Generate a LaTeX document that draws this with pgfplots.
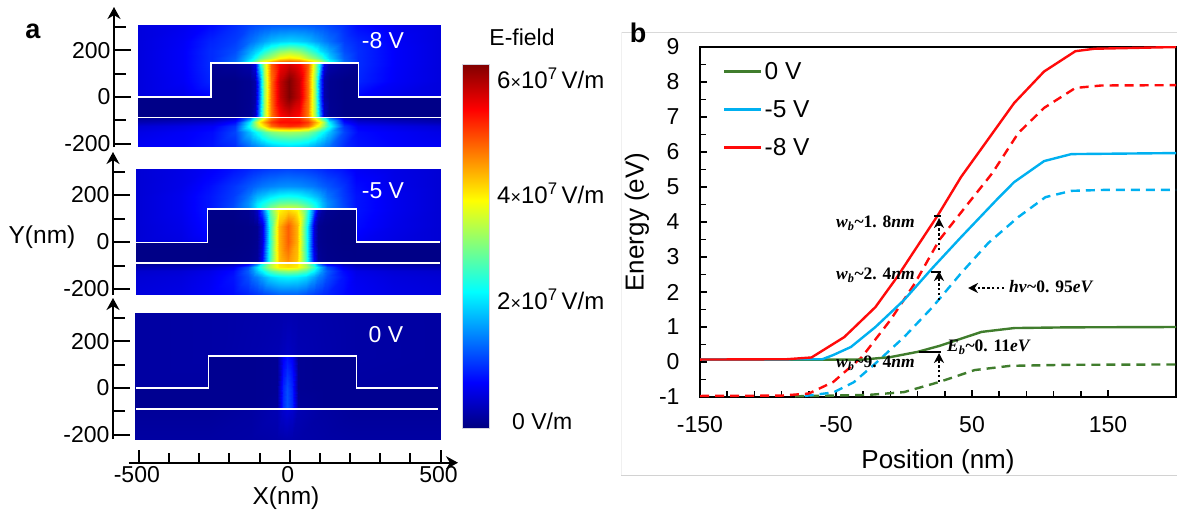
\documentclass[border=0pt]{standalone}
\usepackage[no-math]{fontspec}
\usepackage{pgfplots}
\pgfplotsset{compat=1.18}
\usetikzlibrary{arrows.meta}
\setmainfont{Liberation Sans}
\newfontfamily\annf{Liberation Serif}
\definecolor{gcol}{RGB}{64,125,45}
\definecolor{bcol}{RGB}{0,176,240}
\definecolor{rcol}{RGB}{255,10,10}
\newcommand{\fa}{\fontsize{23}{27}\selectfont}
\newcommand{\fc}{\fontsize{24.5}{28}\selectfont}
\newcommand{\fd}{\fontsize{26}{30}\selectfont}
\newcommand{\an}[4]{{\annf\fontsize{17.5}{20}\selectfont\bfseries{\itshape #1\textsubscript{#2}}\textasciitilde #3{\itshape #4}}}
\newcommand{\cb}[1]{\fontsize{24}{28}\selectfont #1{\fontsize{18}{18}\selectfont×}10\textsuperscript{7}\,V/m}
\pgfplotsset{
  heat/.style={scale only axis,width=327pt,axis x line=none,axis y line=left,
    axis line style={-{Stealth[length=12pt,width=13pt]},line width=2pt},
    ytick={-200,0,200},yticklabels={-200,0,200},minor ytick={-100,100,300},
    tick align=inside,major tick length=17pt,minor tick length=12pt,
    tick style={line width=2pt,black},
    ticklabel style={font=\fa},
    colormap={myjet}{rgb255(0)=(0,0,128) rgb255(1)=(0,0,255) rgb255(3)=(0,255,255) rgb255(5)=(255,255,0) rgb255(7)=(255,0,0) rgb255(8)=(128,0,0)},
    point meta min=0,point meta max=6,clip=false},
  map/.style={surf,shader=interp,point meta=explicit},
}
\begin{document}
\begin{tikzpicture}
\path[use as bounding box] (0pt,0pt) rectangle (1177pt,-512pt);
\draw[gray!30,line width=.8pt] (1177pt,-32pt) -- (621pt,-32pt);
\draw[gray!12,line width=.8pt] (621pt,-32pt) -- (621pt,-475pt);
\draw[gray!35,line width=.8pt] (621pt,-475pt) -- (1177pt,-475pt);

% panel -8 V
\begin{axis}[heat,at={(114pt,-147pt)},anchor=south west,height=140pt,xmin=-579,xmax=500,ymin=-213.7,ymax=384.6]
\addplot[map,mesh/cols=23] table[row sep=\\,x index=0,y index=1,meta index=2]{x y v\\
-500 308 .55\\-350 308 .65\\-261 308 .8\\-257 308 .8\\-180 308 1\\-130 308 1.15\\-113 308 1.2\\-100 308 1.22\\-85 308 1.25\\-60 308 1.28\\-30 308 1.3\\0 308 1.3\\30 308 1.3\\60 308 1.28\\85 308 1.25\\100 308 1.22\\113 308 1.2\\130 308 1.15\\180 308 1\\226 308 .8\\230 308 .8\\350 308 .65\\500 308 .55\\
-500 240 .55\\-350 240 .7\\-261 240 .95\\-257 240 .95\\-180 240 1.1\\-130 240 1.4\\-113 240 1.5\\-100 240 1.6\\-85 240 1.7\\-60 240 1.85\\-30 240 1.95\\0 240 2\\30 240 1.95\\60 240 1.85\\85 240 1.7\\100 240 1.6\\113 240 1.5\\130 240 1.4\\180 240 1.1\\226 240 .95\\230 240 .95\\350 240 .7\\500 240 .55\\
-500 195 .55\\-350 195 .72\\-261 195 1\\-257 195 1\\-180 195 1.2\\-130 195 1.75\\-113 195 1.95\\-100 195 2.1\\-85 195 2.4\\-60 195 2.7\\-30 195 3.05\\0 195 3.2\\30 195 3.05\\60 195 2.7\\85 195 2.4\\100 195 2.1\\113 195 1.95\\130 195 1.75\\180 195 1.2\\226 195 1\\230 195 1\\350 195 .72\\500 195 .55\\
-500 165 .55\\-350 165 .72\\-261 165 1\\-257 165 1\\-180 165 1.3\\-130 165 2\\-113 165 2.35\\-100 165 2.7\\-85 165 3\\-60 165 3.3\\-30 165 3.75\\0 165 3.9\\30 165 3.75\\60 165 3.3\\85 165 3\\100 165 2.7\\113 165 2.35\\130 165 2\\180 165 1.3\\226 165 1\\230 165 1\\350 165 .72\\500 165 .55\\
-500 148 .55\\-350 148 .72\\-261 148 1\\-257 148 1\\-180 148 1.4\\-130 148 2.4\\-113 148 3\\-100 148 3.5\\-85 148 3.9\\-60 148 4.3\\-30 148 4.7\\0 148 4.8\\30 148 4.7\\60 148 4.3\\85 148 3.9\\100 148 3.5\\113 148 3\\130 148 2.4\\180 148 1.4\\226 148 1\\230 148 1\\350 148 .72\\500 148 .55\\
-500 142 .55\\-350 142 .72\\-261 142 1\\-257 142 .1\\-180 142 .15\\-130 142 .25\\-113 142 .6\\-100 142 2\\-85 142 3.3\\-60 142 4.7\\-30 142 5.3\\0 142 5.5\\30 142 5.3\\60 142 4.7\\85 142 3.3\\100 142 2\\113 142 .6\\130 142 .25\\180 142 .15\\226 142 .1\\230 142 1\\350 142 .72\\500 142 .55\\
-500 70 .55\\-350 70 .7\\-261 70 .95\\-257 70 .05\\-180 70 .05\\-130 70 .1\\-113 70 .25\\-100 70 1.3\\-85 70 3.1\\-60 70 4.6\\-30 70 5.6\\0 70 6\\30 70 5.6\\60 70 4.6\\85 70 3.1\\100 70 1.3\\113 70 .25\\130 70 .1\\180 70 .05\\226 70 .05\\230 70 .95\\350 70 .7\\500 70 .55\\
-500 2 .55\\-350 2 .62\\-261 2 .75\\-257 2 .05\\-180 2 .05\\-130 2 .1\\-113 2 .25\\-100 2 1.3\\-85 2 3.1\\-60 2 4.6\\-30 2 5.6\\0 2 6\\30 2 5.6\\60 2 4.6\\85 2 3.1\\100 2 1.3\\113 2 .25\\130 2 .1\\180 2 .05\\226 2 .05\\230 2 .75\\350 2 .62\\500 2 .55\\
-500 -2 .05\\-350 -2 .05\\-261 -2 .05\\-257 -2 .05\\-180 -2 .05\\-130 -2 .1\\-113 -2 .25\\-100 -2 1.3\\-85 -2 3.1\\-60 -2 4.6\\-30 -2 5.6\\0 -2 6\\30 -2 5.6\\60 -2 4.6\\85 -2 3.1\\100 -2 1.3\\113 -2 .25\\130 -2 .1\\180 -2 .05\\226 -2 .05\\230 -2 .05\\350 -2 .05\\500 -2 .05\\
-500 -84 .05\\-350 -84 .05\\-261 -84 .05\\-257 -84 .05\\-180 -84 .05\\-130 -84 .12\\-113 -84 .4\\-100 -84 1.6\\-85 -84 3.2\\-60 -84 4.5\\-30 -84 5.2\\0 -84 5.4\\30 -84 5.2\\60 -84 4.5\\85 -84 3.2\\100 -84 1.6\\113 -84 .4\\130 -84 .12\\180 -84 .05\\226 -84 .05\\230 -84 .05\\350 -84 .05\\500 -84 .05\\
-500 -90 .15\\-350 -90 .2\\-261 -90 .25\\-257 -90 .25\\-180 -90 .5\\-130 -90 1.5\\-113 -90 2.4\\-100 -90 3\\-85 -90 3.7\\-60 -90 4.5\\-30 -90 5\\0 -90 5.1\\30 -90 5\\60 -90 4.5\\85 -90 3.7\\100 -90 3\\113 -90 2.4\\130 -90 1.5\\180 -90 .5\\226 -90 .25\\230 -90 .25\\350 -90 .2\\500 -90 .15\\
-500 -105 .3\\-350 -105 .4\\-261 -105 .5\\-257 -105 .5\\-180 -105 .8\\-130 -105 2.2\\-113 -105 3.2\\-100 -105 3.8\\-85 -105 4.3\\-60 -105 4.9\\-30 -105 5.2\\0 -105 5.2\\30 -105 5.2\\60 -105 4.9\\85 -105 4.3\\100 -105 3.8\\113 -105 3.2\\130 -105 2.2\\180 -105 .8\\226 -105 .5\\230 -105 .5\\350 -105 .4\\500 -105 .3\\
-500 -125 .5\\-350 -125 .6\\-261 -125 .7\\-257 -125 .7\\-180 -125 1.05\\-130 -125 2.4\\-113 -125 3\\-100 -125 3.5\\-85 -125 3.9\\-60 -125 4.6\\-30 -125 4.9\\0 -125 5\\30 -125 4.9\\60 -125 4.6\\85 -125 3.9\\100 -125 3.5\\113 -125 3\\130 -125 2.4\\180 -125 1.05\\226 -125 .7\\230 -125 .7\\350 -125 .6\\500 -125 .5\\
-500 -150 .6\\-350 -150 .7\\-261 -150 .8\\-257 -150 .8\\-180 -150 1.15\\-130 -150 1.9\\-113 -150 2.2\\-100 -150 2.4\\-85 -150 2.7\\-60 -150 3\\-30 -150 3.15\\0 -150 3.2\\30 -150 3.15\\60 -150 3\\85 -150 2.7\\100 -150 2.4\\113 -150 2.2\\130 -150 1.9\\180 -150 1.15\\226 -150 .8\\230 -150 .8\\350 -150 .7\\500 -150 .6\\
-500 -213 .7\\-350 -213 .75\\-261 -213 .85\\-257 -213 .85\\-180 -213 1\\-130 -213 1.4\\-113 -213 1.5\\-100 -213 1.6\\-85 -213 1.7\\-60 -213 1.85\\-30 -213 1.95\\0 -213 2\\30 -213 1.95\\60 -213 1.85\\85 -213 1.7\\100 -213 1.6\\113 -213 1.5\\130 -213 1.4\\180 -213 1\\226 -213 .85\\230 -213 .85\\350 -213 .75\\500 -213 .7\\
};
\addplot[white,line width=1.5pt,no marks] coordinates {(-500,0)(-259,0)(-259,145)(228,145)(228,0)(500,0)};
\addplot[white,line width=1.2pt,no marks] coordinates {(-500,-87)(500,-87)};
\end{axis}

% panel -5 V
\begin{axis}[heat,at={(113pt,-295pt)},anchor=south west,height=143pt,xmin=-574,xmax=500,ymin=-225.5,ymax=383]
\addplot[map,mesh/cols=23] table[row sep=\\,x index=0,y index=1,meta index=2]{x y v\\
-500 310 .5\\-350 310 .6\\-265 310 .7\\-261 310 .7\\-180 310 .85\\-130 310 .95\\-113 310 1\\-100 310 1.02\\-85 310 1.05\\-60 310 1.1\\-30 310 1.12\\0 310 1.15\\30 310 1.12\\60 310 1.1\\85 310 1.05\\100 310 1.02\\113 310 1\\130 310 .95\\180 310 .85\\224 310 .7\\228 310 .7\\350 310 .6\\500 310 .5\\
-500 240 .5\\-350 240 .62\\-265 240 .8\\-261 240 .8\\-180 240 1.05\\-130 240 1.25\\-113 240 1.32\\-100 240 1.38\\-85 240 1.45\\-60 240 1.52\\-30 240 1.58\\0 240 1.6\\30 240 1.58\\60 240 1.52\\85 240 1.45\\100 240 1.38\\113 240 1.32\\130 240 1.25\\180 240 1.05\\224 240 .8\\228 240 .8\\350 240 .62\\500 240 .5\\
-500 195 .5\\-350 195 .65\\-265 195 .85\\-261 195 .85\\-180 195 1.1\\-130 195 1.45\\-113 195 1.65\\-100 195 1.8\\-85 195 1.9\\-60 195 2.1\\-30 195 2.25\\0 195 2.3\\30 195 2.25\\60 195 2.1\\85 195 1.9\\100 195 1.8\\113 195 1.65\\130 195 1.45\\180 195 1.1\\224 195 .85\\228 195 .85\\350 195 .65\\500 195 .5\\
-500 165 .5\\-350 165 .65\\-265 165 .85\\-261 165 .85\\-180 165 1.15\\-130 165 1.6\\-113 165 1.85\\-100 165 2.1\\-85 165 2.3\\-60 165 2.6\\-30 165 2.85\\0 165 2.9\\30 165 2.85\\60 165 2.6\\85 165 2.3\\100 165 2.1\\113 165 1.85\\130 165 1.6\\180 165 1.15\\224 165 .85\\228 165 .85\\350 165 .65\\500 165 .5\\
-500 145 .5\\-350 145 .65\\-265 145 .85\\-261 145 .85\\-180 145 1.2\\-130 145 1.6\\-113 145 1.9\\-100 145 2.2\\-85 145 2.5\\-60 145 3\\-30 145 3.4\\0 145 3.5\\30 145 3.4\\60 145 3\\85 145 2.5\\100 145 2.2\\113 145 1.9\\130 145 1.6\\180 145 1.2\\224 145 .85\\228 145 .85\\350 145 .65\\500 145 .5\\
-500 136 .5\\-350 136 .65\\-265 136 .85\\-261 136 .05\\-180 136 .05\\-130 136 .1\\-113 136 .2\\-100 136 .4\\-85 136 1.2\\-60 136 2.8\\-30 136 3.8\\0 136 4\\30 136 3.8\\60 136 2.8\\85 136 1.2\\100 136 .4\\113 136 .2\\130 136 .1\\180 136 .05\\224 136 .05\\228 136 .85\\350 136 .65\\500 136 .5\\
-500 70 .5\\-350 70 .62\\-265 70 .8\\-261 70 .03\\-180 70 .03\\-130 70 .05\\-113 70 .07\\-100 70 .1\\-85 70 .5\\-60 70 2.5\\-30 70 4.2\\0 70 4.7\\30 70 4.2\\60 70 2.5\\85 70 .5\\100 70 .1\\113 70 .07\\130 70 .05\\180 70 .03\\224 70 .03\\228 70 .8\\350 70 .62\\500 70 .5\\
-500 2 .5\\-350 2 .58\\-265 2 .7\\-261 2 .03\\-180 2 .03\\-130 2 .05\\-113 2 .07\\-100 2 .1\\-85 2 .5\\-60 2 2.5\\-30 2 4.2\\0 2 4.7\\30 2 4.2\\60 2 2.5\\85 2 .5\\100 2 .1\\113 2 .07\\130 2 .05\\180 2 .03\\224 2 .03\\228 2 .7\\350 2 .58\\500 2 .5\\
-500 -2 .04\\-350 -2 .04\\-265 -2 .04\\-261 -2 .03\\-180 -2 .03\\-130 -2 .05\\-113 -2 .07\\-100 -2 .1\\-85 -2 .5\\-60 -2 2.5\\-30 -2 4.2\\0 -2 4.7\\30 -2 4.2\\60 -2 2.5\\85 -2 .5\\100 -2 .1\\113 -2 .07\\130 -2 .05\\180 -2 .03\\224 -2 .03\\228 -2 .04\\350 -2 .04\\500 -2 .04\\
-500 -85 .04\\-350 -85 .04\\-265 -85 .04\\-261 -85 .04\\-180 -85 .05\\-130 -85 .07\\-113 -85 .1\\-100 -85 .15\\-85 -85 .7\\-60 -85 2.6\\-30 -85 4.1\\0 -85 4.4\\30 -85 4.1\\60 -85 2.6\\85 -85 .7\\100 -85 .15\\113 -85 .1\\130 -85 .07\\180 -85 .05\\224 -85 .04\\228 -85 .04\\350 -85 .04\\500 -85 .04\\
-500 -93 .15\\-350 -93 .2\\-265 -93 .25\\-261 -93 .25\\-180 -93 .35\\-130 -93 .7\\-113 -93 1.1\\-100 -93 1.5\\-85 -93 2.3\\-60 -93 3.2\\-30 -93 3.9\\0 -93 4\\30 -93 3.9\\60 -93 3.2\\85 -93 2.3\\100 -93 1.5\\113 -93 1.1\\130 -93 .7\\180 -93 .35\\224 -93 .25\\228 -93 .25\\350 -93 .2\\500 -93 .15\\
-500 -105 .3\\-350 -105 .35\\-265 -105 .45\\-261 -105 .45\\-180 -105 .65\\-130 -105 1.2\\-113 -105 1.7\\-100 -105 2.1\\-85 -105 2.6\\-60 -105 3.3\\-30 -105 3.85\\0 -105 3.95\\30 -105 3.85\\60 -105 3.3\\85 -105 2.6\\100 -105 2.1\\113 -105 1.7\\130 -105 1.2\\180 -105 .65\\224 -105 .45\\228 -105 .45\\350 -105 .35\\500 -105 .3\\
-500 -125 .45\\-350 -125 .5\\-265 -125 .6\\-261 -125 .6\\-180 -125 .8\\-130 -125 1.3\\-113 -125 1.6\\-100 -125 1.9\\-85 -125 2.2\\-60 -125 2.7\\-30 -125 3\\0 -125 3.1\\30 -125 3\\60 -125 2.7\\85 -125 2.2\\100 -125 1.9\\113 -125 1.6\\130 -125 1.3\\180 -125 .8\\224 -125 .6\\228 -125 .6\\350 -125 .5\\500 -125 .45\\
-500 -150 .5\\-350 -150 .55\\-265 -150 .65\\-261 -150 .65\\-180 -150 .85\\-130 -150 1.2\\-113 -150 1.4\\-100 -150 1.5\\-85 -150 1.7\\-60 -150 2\\-30 -150 2.15\\0 -150 2.2\\30 -150 2.15\\60 -150 2\\85 -150 1.7\\100 -150 1.5\\113 -150 1.4\\130 -150 1.2\\180 -150 .85\\224 -150 .65\\228 -150 .65\\350 -150 .55\\500 -150 .5\\
-500 -225 .55\\-350 -225 .6\\-265 -225 .7\\-261 -225 .7\\-180 -225 .8\\-130 -225 .95\\-113 -225 1\\-100 -225 1.05\\-85 -225 1.1\\-60 -225 1.2\\-30 -225 1.3\\0 -225 1.3\\30 -225 1.3\\60 -225 1.2\\85 -225 1.1\\100 -225 1.05\\113 -225 1\\130 -225 .95\\180 -225 .8\\224 -225 .7\\228 -225 .7\\350 -225 .6\\500 -225 .55\\
};
\addplot[white,line width=1.5pt,no marks] coordinates {(-500,-2)(-263,-2)(-263,140)(226,140)(226,1)(500,1)};
\addplot[white,line width=1.2pt,no marks] coordinates {(-500,-89)(500,-89)};
\end{axis}

% panel 0 V
\begin{axis}[heat,at={(113pt,-439pt)},anchor=south west,height=141pt,xmin=-572,xmax=500,ymin=-218,ymax=384.6]
\addplot[map,mesh/cols=13] table[row sep=\\,x index=0,y index=1,meta index=2]{x y v\\
-500 320 .2\\-261 320 .22\\-257 320 .22\\-120 320 .25\\-35 320 .27\\-15 320 .28\\0 320 .28\\15 320 .28\\35 320 .27\\120 320 .25\\226 320 .22\\230 320 .22\\500 320 .2\\
-500 140 .2\\-261 140 .22\\-257 140 .22\\-120 140 .26\\-35 140 .3\\-15 140 .36\\0 140 .4\\15 140 .36\\35 140 .3\\120 140 .26\\226 140 .22\\230 140 .22\\500 140 .2\\
-500 132 .2\\-261 132 .22\\-257 132 .1\\-120 132 .1\\-35 132 .12\\-15 132 .7\\0 132 .85\\15 132 .7\\35 132 .12\\120 132 .1\\226 132 .1\\230 132 .22\\500 132 .2\\
-500 2 .2\\-261 2 .2\\-257 2 .1\\-120 2 .1\\-35 2 .12\\-15 2 .95\\0 2 1.2\\15 2 .95\\35 2 .12\\120 2 .1\\226 2 .1\\230 2 .2\\500 2 .2\\
-500 -2 .1\\-261 -2 .1\\-257 -2 .1\\-120 -2 .1\\-35 -2 .12\\-15 -2 .95\\0 -2 1.2\\15 -2 .95\\35 -2 .12\\120 -2 .1\\226 -2 .1\\230 -2 .1\\500 -2 .1\\
-500 -85 .1\\-261 -85 .1\\-257 -85 .1\\-120 -85 .1\\-35 -85 .15\\-15 -85 1\\0 -85 1.25\\15 -85 1\\35 -85 .15\\120 -85 .1\\226 -85 .1\\230 -85 .1\\500 -85 .1\\
-500 -93 .15\\-261 -93 .15\\-257 -93 .15\\-120 -93 .2\\-35 -93 .3\\-15 -93 .45\\0 -93 .5\\15 -93 .45\\35 -93 .3\\120 -93 .2\\226 -93 .15\\230 -93 .15\\500 -93 .15\\
-500 -218 .2\\-261 -218 .2\\-257 -218 .2\\-120 -218 .22\\-35 -218 .25\\-15 -218 .27\\0 -218 .28\\15 -218 .27\\35 -218 .25\\120 -218 .22\\226 -218 .2\\230 -218 .2\\500 -218 .2\\
};
\addplot[white,line width=1.5pt,no marks] coordinates {(-495,0)(-259,0)(-259,136)(226,136)(226,0)(495,0)};
\addplot[white,line width=1.2pt,no marks] coordinates {(-495,-90)(495,-90)};
\end{axis}

% x axis of panel a
\begin{axis}[scale only axis,at={(128.6pt,-462.7pt)},anchor=south west,width=329.4pt,height=10pt,
  axis y line=none,axis x line=bottom,xmin=-534,xmax=558,ymin=0,ymax=1,
  axis line style={-{Stealth[length=12pt,width=13pt]},line width=2pt},
  xtick={-500,0,500},xticklabels={-500,0,500},minor xtick={-400,-300,-200,-100,100,200,300,400},
  tick align=inside,major tick length=13pt,minor tick length=10pt,tick style={line width=2pt,black},
  ticklabel style={font=\fa},xticklabel style={xshift=-2pt},clip=false]
\end{axis}

% colour bar
\begin{axis}[scale only axis,at={(462pt,-428pt)},anchor=south west,width=27pt,height=364pt,hide axis,
  xmin=0,xmax=1,ymin=0,ymax=6,point meta min=0,point meta max=6,
  colormap={myjet}{rgb255(0)=(0,0,128) rgb255(1)=(0,0,255) rgb255(3)=(0,255,255) rgb255(5)=(255,255,0) rgb255(7)=(255,0,0) rgb255(8)=(128,0,0)}]
\addplot[surf,shader=interp,point meta=explicit,mesh/cols=2] table[row sep=\\,x index=0,y index=1,meta index=2]{x y v\\0 0 0\\1 0 0\\0 6 6\\1 6 6\\};
\end{axis}
\draw[blue!15!gray!30,line width=.7pt] (462pt,-64pt) rectangle (489pt,-428pt);

% panel b
\begin{axis}[scale only axis,at={(700pt,-397pt)},anchor=south west,width=476pt,height=350pt,
  xmin=-150,xmax=200,ymin=-1,ymax=9,
  xtick={-150,-50,50,150},xticklabels={-150,-50,50,150},minor x tick num=4,
  ytick={-1,0,...,9},yticklabels={-1,0,1,2,3,4,5,6,7,8,9},minor y tick num=1,
  tick pos=left,tick align=inside,major tick length=7pt,minor tick length=6pt,
  tick style={line width=1.6pt,black},axis line style={line width=1.8pt},
  ticklabel style={font=\fa},xticklabel style={yshift=-16pt},yticklabel style={xshift=-17pt},
  no marks,clip=true,
  legend style={at={(23pt,337pt)},anchor=north west,draw=none,fill=none,font=\fc,row sep=15.5pt,inner sep=0pt},
  legend cell align=left,
  legend image code/.code={\draw[#1] (0pt,0pt) -- (37pt,0pt);}]
\addplot[gcol,line width=2.4pt,forget plot,dash pattern=on 9pt off 6pt] coordinates {(-80,-.98)(-26,-.94)(0,-.86)(26,-.57)(52,-.23)(78,-.11)(120,-.08)(201,-.07)};
\addplot[bcol,line width=2.4pt,forget plot,dash pattern=on 9pt off 6pt] coordinates {(-73,-.97)(-52,-.87)(-37,-.58)(-21,-.04)(0,.71)(21,1.57)(42,2.54)(62,3.4)(84,4.14)(104,4.71)(123,4.89)(150,4.92)(201,4.92)};
\addplot[rcol,line width=2.4pt,forget plot,dash pattern=on 9pt off 6pt] coordinates {(-150,-.97)(-90,-.96)(-70,-.9)(-52,-.57)(-31,.14)(-10,1.2)(8,2.25)(26,3.49)(48,4.57)(65,5.4)(84,6.54)(103,7.26)(126,7.83)(145,7.9)(201,7.91)};
\addplot[gcol,line width=2.4pt] coordinates {(-150,.07)(-30,.07)(-10,.14)(10,.29)(26,.46)(57,.86)(81,.97)(120,.99)(201,1)};
\addlegendentry{0 V}
\addplot[bcol,line width=2.4pt] coordinates {(-150,.07)(-60,.08)(-52,.2)(-39,.43)(-21,1)(0,1.77)(21,2.69)(42,3.57)(68,4.63)(81,5.14)(103,5.74)(123,5.94)(201,5.97)};
\addlegendentry{-5 V}
\addplot[rcol,line width=2.4pt] coordinates {(-150,.07)(-86,.08)(-68,.13)(-44,.71)(-37,.97)(-21,1.57)(-5,2.43)(8,3.2)(25,4.2)(42,5.29)(57,6.1)(81,7.4)(103,8.3)(126,8.88)(140,8.95)(201,9)};
\addlegendentry{-8 V}
\end{axis}

% text
\node[font=\fontsize{27}{30}\selectfont\bfseries] at (33pt,-31pt) {a};
\node[font=\fontsize{27}{30}\selectfont\bfseries] at (638pt,-33pt) {b};
\node[font=\fc] at (42pt,-237pt) {Y(nm)};
\node[font=\fc] at (286pt,-498pt) {X(nm)};
\node[font=\fa,white] at (383pt,-41pt) {-8 V};
\node[font=\fa,white] at (383pt,-191pt) {-5 V};
\node[font=\fa,white] at (386pt,-335pt) {0 V};
\node[font=\fa] at (522pt,-37pt) {E-field};
\node[anchor=west,inner sep=0pt] at (497pt,-78pt) {\cb{6}};
\node[anchor=west,inner sep=0pt] at (497pt,-193pt) {\cb{4}};
\node[anchor=west,inner sep=0pt] at (497pt,-299pt) {\cb{2}};
\node[font=\fa,anchor=west,inner sep=0pt] at (512pt,-421pt) {0 V/m};
\node[font=\fd,rotate=90] at (637pt,-222pt) {Energy (eV)};
\node[font=\fd] at (938pt,-462pt) {Position (nm)};
\node[anchor=west,inner sep=0pt] at (836pt,-223pt) {\an{w}{b}{1. 8}{nm}};
\node[anchor=west,inner sep=0pt] at (836pt,-275pt) {\an{w}{b}{2. 4}{nm}};
\node[anchor=west,inner sep=0pt] at (836pt,-363pt) {\an{w}{b}{9. 4}{nm}};
\node[anchor=west,inner sep=0pt] at (947pt,-347pt) {\an{E}{b}{0. 11}{eV}};
\node[anchor=west,inner sep=0pt] at (1009pt,-288pt) {\an{hv}{}{0. 95}{eV}};
% arrows
\tikzset{ann/.style={line width=2.4pt,dash pattern=on 2.4pt off 2.4pt,-{Stealth[length=10pt,width=10pt]}}}
\draw[ann] (939pt,-250pt) -- (939pt,-218pt);
\draw[ann] (939pt,-300pt) -- (939pt,-271pt);
\draw[ann] (939pt,-382pt) -- (939pt,-353pt);
\draw[ann] (1004pt,-288pt) -- (968pt,-288pt);
\draw[line width=1.8pt] (934pt,-216pt) -- (941pt,-216pt);
\draw[line width=1.8pt] (931pt,-272pt) -- (941pt,-272pt);
\draw[line width=1.8pt] (919pt,-352pt) -- (941pt,-352pt);
\end{tikzpicture}
\end{document}
